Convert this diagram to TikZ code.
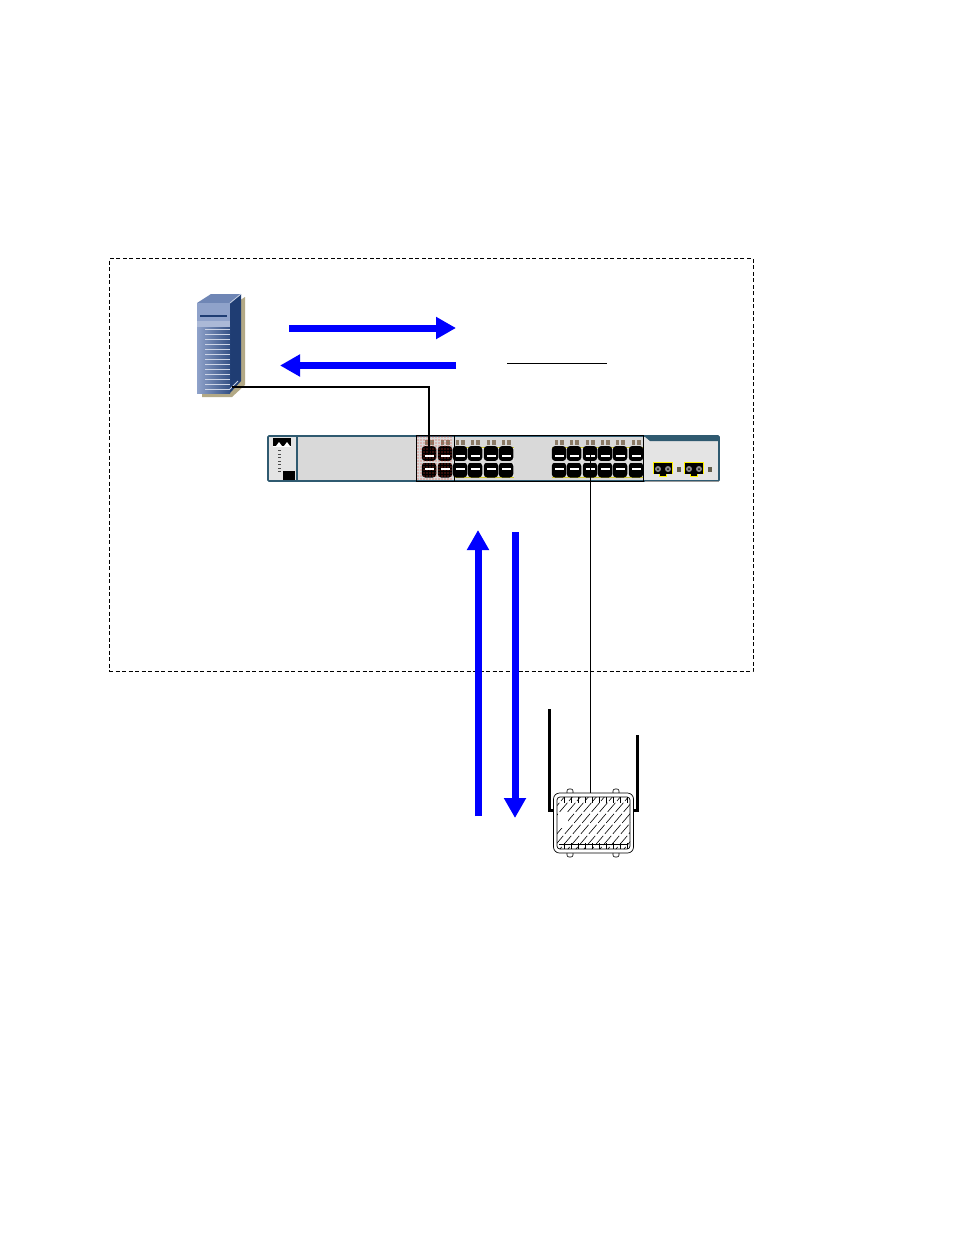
\documentclass[tikz,border=0pt]{standalone}
\usetikzlibrary{arrows.meta,calc}
\definecolor{teal}{HTML}{2F5A70}
\definecolor{swgrey}{HTML}{D9D9D9}
\definecolor{panel}{HTML}{E4E4E4}
\definecolor{srvA}{HTML}{8FA2CA}
\definecolor{srvB}{HTML}{1F3D73}
\definecolor{srvC}{HTML}{6F86B5}
\definecolor{tan}{HTML}{B3A986}
\definecolor{portbrown}{HTML}{8A7A66}
\definecolor{portred}{HTML}{E23A2A}
\tikzset{
  x=1pt,y=-1pt,
  bigarrow/.style={draw=blue,line width=7pt,-{Triangle[length=20pt,width=21pt]}},
  port/.style={fill=black,minimum width=14.5pt,minimum height=15pt,inner sep=0pt,rounded corners=3.5pt,draw=none},
  wire/.style={draw=black,line width=1.4pt},
  thinwire/.style={draw=black,line width=0.9pt},
  boxline/.style={draw=black,line width=1pt},
}
\begin{document}
\begin{tikzpicture}
\useasboundingbox (0,0) rectangle (954,1235);
\fill[white] (0,0) rectangle (954,1235);
% boundary
\node[draw=black,line width=0.6pt,dash pattern=on 4pt off 2.5pt,minimum width=644pt,minimum height=413pt,inner sep=0pt] (zone) at (431,465.2) {};
% server
\fill[tan] (202,325) -- (245,297) -- (245,385) -- (232,397) -- (202,397) -- cycle;
\fill[srvB] (230,303) -- (241,294) -- (241,381) -- (230,393) -- cycle;
\fill[srvC] (197,303) -- (211,294) -- (241,294) -- (230,303) -- cycle;
\shade[left color=srvA,right color=srvB!80!srvA] (197,325) rectangle (230,393);
\fill[srvA] (197,303) rectangle (230,325);
\fill[srvA!75!white] (197,321) rectangle (230,327);
\draw[srvB,line width=2pt] (200,315.5) -- (227,315.5);
\foreach \yy in {329,334,...,389}{\draw[white!55!srvA,line width=0.9pt] (205,\yy) -- (230,\yy);}
\draw[white!50!srvA,line width=0.8pt] (230,303) -- (241,294);
\draw[white!50!srvA,line width=0.8pt] (230,389) -- (238,381);
\node[inner sep=0pt,minimum size=1pt] (server) at (232,387) {};
% switch
\node[draw=teal,fill=swgrey,line width=1.6pt,minimum width=451pt,minimum height=45pt,inner sep=0pt,rounded corners=1pt] (switch) at (493.5,458.5) {};
\fill[panel] (269,437) rectangle (296,480);
\draw[teal,line width=1.2pt] (297,437) -- (297,480);
\fill[panel] (644,437) rectangle (718,480);
\fill[teal] (644,436) -- (719,436) -- (719,441) -- (650,441) -- cycle;
\fill[white!60!black] (645,480.6) rectangle (719,481.6);
% left panel
\fill[black] (273,438) rectangle (291,446);
\fill[white] (276,446) -- (279,442) -- (282,446) -- cycle;
\fill[white] (284,446) -- (287,442) -- (290,446) -- cycle;
\draw[white,line width=0.5pt] (273,446.5) -- (291,446.5);
\foreach \yy in {450,453.5,...,471}{\fill[black!70] (278,\yy) rectangle (280.5,\yy+1.3);}
\fill[black] (283,471) rectangle (295,480);
% port groups
\fill[panel] (552,448) rectangle (643,477);
\fill[panel] (455,448) rectangle (514,477);
\draw[yellow!80!black,line width=0.3pt] (552,447) -- (643,447);
\draw[yellow!80!black,line width=0.3pt] (455,447) -- (514,447);
\draw[yellow!80!black,line width=0.3pt] (552,477) -- (643,477);
\draw[yellow!80!black,line width=0.3pt] (455,477) -- (514,477);
\foreach \xx in {429,445,460,475,491,506,559,574,590,605,620,636}{
  \fill[portbrown] (\xx-4.5,440) rectangle (\xx-1,444.5);
  \fill[portbrown] (\xx+1,440) rectangle (\xx+4.5,444.5);
  \node[port] (t\xx) at (\xx,453.5) {};
  \node[port] (b\xx) at (\xx,470) {};
  \fill[white] (\xx-4.5,455) rectangle (\xx+4.5,457);
  \fill[white] (\xx-4.5,467.5) rectangle (\xx+4.5,469.5);
}
\fill[white!85!black] (423,461.2) rectangle (452,462.6);
\fill[white!85!black] (455,461.2) rectangle (514,462.6);
\fill[white!85!black] (552,461.2) rectangle (643,462.6);
% red dotted highlight
\foreach \yy in {437,440,...,480}{\foreach \xx in {418,421,...,452}{\fill[portred] (\xx,\yy) circle (0.6);}}
\foreach \xx in {429,445}{
  \fill[white] (\xx-4.5,455) rectangle (\xx+4.5,457);
  \fill[white] (\xx-4.5,467.5) rectangle (\xx+4.5,469.5);
}
% fibre
\foreach \xx/\nn in {663/f1,694/f2}{
  \fill[yellow] (\xx-10,462) rectangle (\xx+10,474);
  \fill[yellow] (\xx-4,474) rectangle (\xx+4,477);
  \fill[black] (\xx-9,463) rectangle (\xx+9,473.5);
  \fill[black] (\xx-3,473) rectangle (\xx+3,476);
  \fill[black!45] (\xx-5,469) circle (3);
  \fill[black!45] (\xx+5,469) circle (3);
  \fill[black] (\xx-5,469) circle (1);
  \fill[black] (\xx+5,469) circle (1);
  \fill[black!45!tan] (\xx+14,467) rectangle (\xx+18,471.5);
}
% port selection boxes
\node[boxline,minimum width=38pt,minimum height=46pt,inner sep=0pt] (sel1) at (435,458) {};
\node[boxline,minimum width=189pt,minimum height=46pt,inner sep=0pt] (sel2) at (548.5,458) {};
% AP
\draw[line width=3pt] (549,709) |- (554,810);
\draw[line width=3pt] (637,735) |- (632,810);
\foreach \xx in {570,616}{
  \draw[black,fill=white,line width=0.6pt,rounded corners=2pt] (\xx-3,797) -- (\xx-3,789) -- (\xx+3,789) -- (\xx+3,797);
  \draw[black,fill=white,line width=0.6pt,rounded corners=2pt] (\xx-3,850) -- (\xx-3,857) -- (\xx+3,857) -- (\xx+3,850);
}
\node[draw=black,fill=white,line width=0.7pt,minimum width=80pt,minimum height=60pt,rounded corners=6pt,inner sep=0pt] (ap) at (593.5,823) {};
\begin{scope}
  \clip[rounded corners=3pt] (557,797) rectangle (630,849);
  \foreach \k in {-60,-52,...,80}{
    \draw[line width=0.6pt,dash pattern=on 12pt off 2.5pt] (550+\k,856) -- (550+\k+58,788);
  }
  \fill[white] (558,813) rectangle (568,828);
  \foreach \xx in {564,571,...,628}{\draw[line width=0.6pt] (\xx,797) -- (\xx,803);\draw[line width=0.6pt] (\xx,843) -- (\xx,849);}
\end{scope}
\draw[line width=0.7pt,rounded corners=3pt] (557,797) rectangle (630,849);
\draw[line width=0.7pt] (559,844) -- (628,844);
% connectors
\coordinate (apin) at (t590.center |- 0,793);
\draw[wire] (server.center) -| (t429.center);
\draw[thinwire] (t590.center) -- (apin);
% arrows
\coordinate (a1s) at (289,328); \coordinate (a1e) at (456,328);
\coordinate (a2s) at (456,365.5); \coordinate (a2e) at (280,365.5);
\coordinate (a3s) at (478,816); \coordinate (a3e) at (478,530);
\coordinate (a4s) at (515,532); \coordinate (a4e) at (515,818);
\draw[bigarrow] (a1s) -- (a1e);
\draw[bigarrow] (a2s) -- (a2e);
\draw[bigarrow] (a3s) -- (a3e);
\draw[bigarrow] (a4s) -- (a4e);
% underline
\coordinate (u1) at (507,363.5); \coordinate (u2) at (607,363.5);
\draw[black,line width=0.6pt] (u1) -- (u2);
\end{tikzpicture}
\end{document}
